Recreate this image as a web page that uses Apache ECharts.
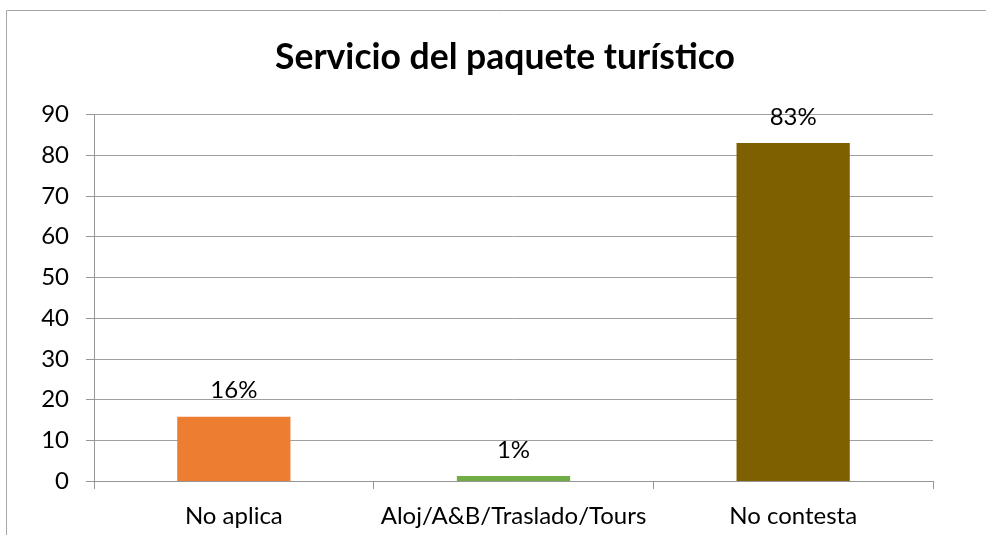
<!DOCTYPE html>
<html><head><meta charset="utf-8">
<script src="https://cdn.jsdelivr.net/npm/echarts@6/dist/echarts.min.js"></script>
<style>html,body{margin:0;padding:0;background:#fff}#c{width:986px;height:535px}</style>
</head><body><div id="c"></div>
<script>
const categories = ['No aplica', 'Aloj/A&B/Traslado/Tours', 'No contesta'];
const values = [15.8, 1.2, 83];
const valueLabels = ['16%', '1%', '83%'];
const colors = ['#ED7D31', '#70AD47', '#7F6000'];
const yTicks = {min: 0, max: 90, interval: 10};

const chart = echarts.init(document.getElementById('c'), null, {renderer: 'canvas'});
const FONT = 'Lato, "Open Sans", sans-serif';
chart.setOption({
  animation: false,
  backgroundColor: '#fff',
  graphic: [{
    type: 'rect', shape: {x: 6.5, y: 10.5, width: 1000, height: 600},
    style: {fill: 'none', stroke: '#a6a6a6', lineWidth: 1}, silent: true
  }],
  title: {
    text: 'Servicio del paquete turístico', left: 270, top: 35,
    textStyle: {fontFamily: FONT, fontSize: 35.5, fontWeight: 'bold', color: '#000'}
  },
  grid: {left: 94, right: 53, top: 114.5, bottom: 54, containLabel: false},
  xAxis: {
    type: 'category', data: categories,
    axisLine: {lineStyle: {color: '#969696', width: 1}},
    axisTick: {show: true, length: 8, lineStyle: {color: '#969696'}},
    axisLabel: {interval: 0, hideOverlap: false, fontFamily: FONT, fontSize: 24, color: '#000', margin: 23}
  },
  yAxis: {
    type: 'value', min: yTicks.min, max: yTicks.max, interval: yTicks.interval,
    axisLine: {show: true, lineStyle: {color: '#969696'}},
    axisTick: {show: true, length: 8, lineStyle: {color: '#969696'}},
    splitLine: {lineStyle: {color: '#a0a0a0'}},
    axisLabel: {fontFamily: FONT, fontSize: 24, color: '#000', margin: 25}
  },
  series: [{
    type: 'bar', barWidth: '40.5%',
    data: values.map((v, i) => ({value: v, itemStyle: {color: colors[i]}})),
    label: {
      show: true, position: 'top', distance: 14,
      fontFamily: FONT, fontSize: 24, color: '#000',
      formatter: p => valueLabels[p.dataIndex]
    }
  }]
});
</script></body></html>
